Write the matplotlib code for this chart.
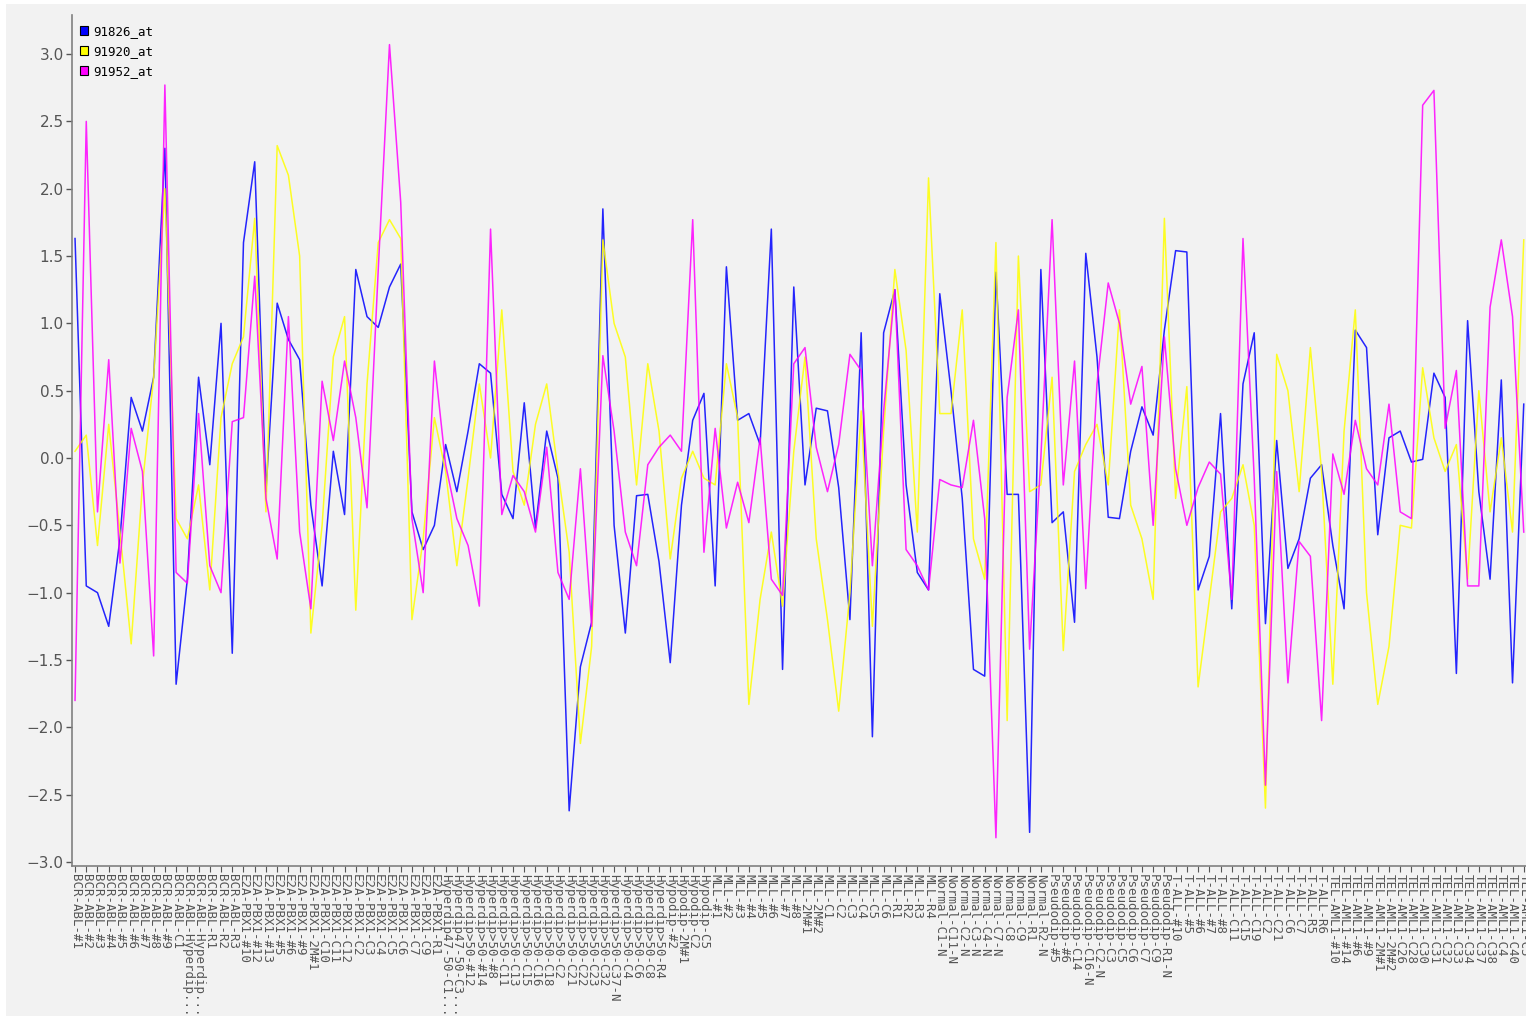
import matplotlib
matplotlib.use("Agg")
from matplotlib import pyplot as plt
from matplotlib.patches import Patch, Rectangle
import numpy as np

samples = (
    ["BCR-ABL-#1", "BCR-ABL-#2", "BCR-ABL-#3", "BCR-ABL-#4", "BCR-ABL-#5", "BCR-ABL-#6",
     "BCR-ABL-#7", "BCR-ABL-#8", "BCR-ABL-#9", "BCR-ABL-C1", "BCR-ABL-Hyperdip...",
     "BCR-ABL-Hyperdip...", "BCR-ABL-R1", "BCR-ABL-R2", "BCR-ABL-R3"]
    + ["E2A-PBX1-#10", "E2A-PBX1-#12", "E2A-PBX1-#13", "E2A-PBX1-#5", "E2A-PBX1-#6",
       "E2A-PBX1-#9", "E2A-PBX1-2M#1", "E2A-PBX1-C10", "E2A-PBX1-C11", "E2A-PBX1-C12",
       "E2A-PBX1-C2", "E2A-PBX1-C3", "E2A-PBX1-C4", "E2A-PBX1-C5", "E2A-PBX1-C6",
       "E2A-PBX1-C7", "E2A-PBX1-C9", "E2A-PBX1-R1"]
    + ["Hyperdip47-50-C1...", "Hyperdip47-50-C3..."]
    + ["Hyperdip>50-#12", "Hyperdip>50-#14", "Hyperdip>50-#8", "Hyperdip>50-C11",
       "Hyperdip>50-C13", "Hyperdip>50-C15", "Hyperdip>50-C16", "Hyperdip>50-C18",
       "Hyperdip>50-C2", "Hyperdip>50-C21", "Hyperdip>50-C22", "Hyperdip>50-C23",
       "Hyperdip>50-C32", "Hyperdip>50-C37-N", "Hyperdip>50-C4", "Hyperdip>50-C6",
       "Hyperdip>50-C8", "Hyperdip>50-R4"]
    + ["Hypodip-#2", "Hypodip-2M#1", "Hypodip-C2", "Hypodip-C5"]
    + ["MLL-#1", "MLL-#2", "MLL-#3", "MLL-#4", "MLL-#5", "MLL-#6", "MLL-#7", "MLL-#8",
       "MLL-2M#1", "MLL-2M#2", "MLL-C1", "MLL-C2", "MLL-C3", "MLL-C4", "MLL-C5", "MLL-C6",
       "MLL-R1", "MLL-R2", "MLL-R3", "MLL-R4"]
    + ["Normal-C1-N", "Normal-C11-N", "Normal-C2-N", "Normal-C3-N", "Normal-C4-N",
       "Normal-C7-N", "Normal-C8", "Normal-C9", "Normal-R1", "Normal-R2-N"]
    + ["Pseudodip-#5", "Pseudodip-#6", "Pseudodip-C14", "Pseudodip-C16-N", "Pseudodip-C2-N",
       "Pseudodip-C3", "Pseudodip-C5", "Pseudodip-C6", "Pseudodip-C7", "Pseudodip-C9",
       "Pseudodip-R1-N"]
    + ["T-ALL-#10", "T-ALL-#5", "T-ALL-#6", "T-ALL-#7", "T-ALL-#8", "T-ALL-C11", "T-ALL-C15",
       "T-ALL-C19", "T-ALL-C2", "T-ALL-C21", "T-ALL-C6", "T-ALL-C7", "T-ALL-R5", "T-ALL-R6"]
    + ["TEL-AML1-#10", "TEL-AML1-#14", "TEL-AML1-#6", "TEL-AML1-#9", "TEL-AML1-2M#1",
       "TEL-AML1-2M#2", "TEL-AML1-C26", "TEL-AML1-C28", "TEL-AML1-C30", "TEL-AML1-C31",
       "TEL-AML1-C32", "TEL-AML1-C33", "TEL-AML1-C34", "TEL-AML1-C37", "TEL-AML1-C38",
       "TEL-AML1-C4", "TEL-AML1-C40", "TEL-AML1-C5"]
)

# 91826_at
probe_91826 = [
    1.63, -0.95, -1.0, -1.25, -0.6, 0.45, 0.2, 0.6, 2.3, -1.68,
    -0.9, 0.6, -0.05, 1.0, -1.45, 1.6, 2.2, -0.25, 1.15, 0.88,
    0.73, -0.35, -0.95, 0.05, -0.42, 1.4, 1.05, 0.97, 1.27, 1.44,
    -0.4, -0.68, -0.5, 0.1, -0.25, 0.2, 0.7, 0.63, -0.27, -0.45,
    0.41, -0.52, 0.2, -0.15, -2.62, -1.55, -1.22, 1.85, -0.5, -1.3,
    -0.28, -0.27, -0.77, -1.52, -0.35, 0.28, 0.48, -0.95, 1.42, 0.28,
    0.33, 0.1, 1.7, -1.57, 1.27, -0.2, 0.37, 0.35, -0.22, -1.2,
    0.93, -2.07, 0.93, 1.25, -0.2, -0.85, -0.98, 1.22, 0.5, -0.3,
    -1.57, -1.62, 1.38, -0.27, -0.27, -2.78, 1.4, -0.48, -0.4, -1.22,
    1.52, 0.75, -0.44, -0.45, 0.05, 0.38, 0.17, 0.95, 1.54, 1.53,
    -0.98, -0.73, 0.33, -1.12, 0.55, 0.93, -1.23, 0.13, -0.82, -0.6,
    -0.15, -0.05, -0.65, -1.12, 0.95, 0.82, -0.57, 0.15, 0.2, -0.03,
    -0.01, 0.63, 0.45, -1.6, 1.02, -0.25, -0.9, 0.58, -1.67, 0.4,
]

# 91920_at
probe_91920 = [
    0.05, 0.17, -0.65, 0.25, -0.55, -1.38, -0.2, 0.6, 2.0, -0.45,
    -0.6, -0.2, -0.98, 0.3, 0.7, 0.9, 1.78, -0.4, 2.32, 2.1,
    1.5, -1.3, -0.5, 0.75, 1.05, -1.13, 0.55, 1.6, 1.77, 1.63,
    -1.2, -0.6, 0.3, -0.1, -0.8, -0.15, 0.55, 0.0, 1.1, -0.1,
    -0.35, 0.25, 0.55, -0.1, -0.7, -2.12, -1.4, 1.62, 1.0, 0.75,
    -0.2, 0.7, 0.2, -0.75, -0.15, 0.05, -0.15, -0.2, 0.7, 0.3,
    -1.83, -1.05, -0.55, -1.1, 0.05, 0.75, -0.6, -1.2, -1.88, -1.0,
    0.35, -1.25, 0.2, 1.4, 0.8, -0.55, 2.08, 0.33, 0.33, 1.1,
    -0.6, -0.9, 1.6, -1.95, 1.5, -0.25, -0.2, 0.6, -1.43, -0.1,
    0.1, 0.25, -0.2, 1.1, -0.35, -0.6, -1.05, 1.78, -0.3, 0.53,
    -1.7, -1.05, -0.4, -0.3, -0.05, -0.5, -2.6, 0.77, 0.5, -0.25,
    0.82, -0.1, -1.68, 0.2, 1.1, -1.0, -1.83, -1.4, -0.5, -0.52,
    0.67, 0.15, -0.1, 0.1, -0.9, 0.5, -0.4, 0.15, -0.55, 1.62,
]

# 91952_at
probe_91952 = [
    -1.8, 2.5, -0.4, 0.73, -0.78, 0.22, -0.1, -1.47, 2.77, -0.85,
    -0.93, 0.33, -0.8, -1.0, 0.27, 0.3, 1.35, -0.3, -0.75, 1.05,
    -0.55, -1.12, 0.57, 0.13, 0.72, 0.3, -0.37, 1.4, 3.07, 1.9,
    -0.45, -1.0, 0.72, -0.05, -0.45, -0.65, -1.1, 1.7, -0.42, -0.13,
    -0.25, -0.55, 0.08, -0.85, -1.05, -0.08, -1.25, 0.76, 0.2, -0.55,
    -0.8, -0.05, 0.08, 0.17, 0.05, 1.77, -0.7, 0.22, -0.52, -0.18,
    -0.48, 0.15, -0.9, -1.02, 0.7, 0.82, 0.08, -0.25, 0.1, 0.77,
    0.65, -0.8, 0.35, 1.25, -0.68, -0.8, -0.98, -0.16, -0.2, -0.22,
    0.28, -0.45, -2.82, 0.45, 1.1, -1.42, 0.0, 1.77, -0.2, 0.72,
    -0.97, 0.55, 1.3, 1.0, 0.4, 0.68, -0.5, 0.9, -0.08, -0.5,
    -0.22, -0.03, -0.12, -1.05, 1.63, -0.15, -2.43, -0.1, -1.67, -0.62,
    -0.73, -1.95, 0.03, -0.27, 0.28, -0.08, -0.2, 0.4, -0.4, -0.45,
    2.62, 2.73, 0.22, 0.65, -0.95, -0.95, 1.12, 1.62, 1.05, -0.55,
]

series_names = ["91826_at", "91920_at", "91952_at"]
series_colors = ["#0000FF", "#FFFF00", "#FF00FF"]

bg = "#F2F2F2"
fig = plt.figure(figsize=(15.26, 10.16), dpi=100, facecolor="white")
fig.patches.append(Rectangle((6 / 1526, 0), 1, 1 - 4 / 1016, transform=fig.transFigure,
                             facecolor=bg, edgecolor="none", zorder=-10))
ax = fig.add_axes([72 / 1526, 1 - 866 / 1016, 1 - 72 / 1526, (866 - 15) / 1016])
ax.set_facecolor(bg)

x = np.arange(len(samples))
for vals, name, col in zip([probe_91826, probe_91920, probe_91952], series_names, series_colors):
    ax.plot(x, vals, color=col, lw=1.1, alpha=0.85, label=name)

ax.set_xlim(-0.27, len(samples) - 1 + 0.2)
ax.set_ylim(-3.03, 3.29)
ticks = np.arange(-3.0, 3.01, 0.5)
ax.set_yticks(ticks)
ax.set_yticklabels([f"{v:.1f}".replace("-", "\u2212") for v in ticks])
ax.set_xticks(x)
ax.set_xticklabels(samples, rotation=-90, family="DejaVu Sans Mono", fontsize=9,
                   color="#444444")

for s in ["top", "right"]:
    ax.spines[s].set_visible(False)
for s in ["left", "bottom"]:
    ax.spines[s].set_color("#808080")
    ax.spines[s].set_linewidth(1.2)
ax.tick_params(axis="y", labelsize=11, colors="#555555", length=4, width=1, pad=2)
ax.tick_params(axis="x", colors="#555555", length=4, width=0.8, pad=2)

handles = [Patch(facecolor=c, edgecolor="black", linewidth=0.8) for c in series_colors]
ax.legend(handles, series_names, loc="upper left", bbox_to_anchor=(0.0018, 0.994),
          frameon=False, handlelength=0.65, handleheight=0.75, handletextpad=0.45,
          labelspacing=0.55, borderaxespad=0,
          prop={"family": "DejaVu Sans Mono", "size": 9})

fig.savefig("out.png", dpi=100, facecolor=fig.get_facecolor())
